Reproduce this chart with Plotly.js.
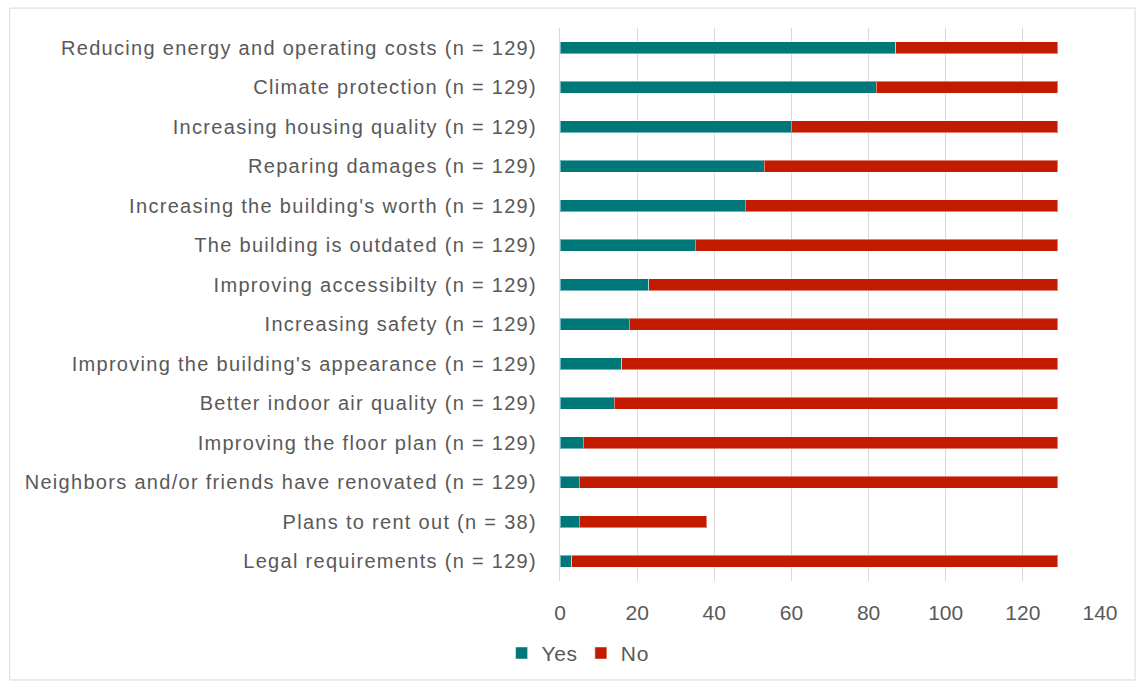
<!DOCTYPE html>
<html>
<head>
<meta charset="utf-8">
<script src="https://cdn.plot.ly/plotly-3.0.1.min.js"></script>
<style>
html,body{margin:0;padding:0;background:#fff;}
#chart{width:1137px;height:682px;}
#chart .ytick text{letter-spacing:1.3px;}
#chart .legendtext{letter-spacing:0.6px;}
</style>
</head>
<body>
<div id="chart"></div>
<script>
const categories = [
  "Reducing energy and operating costs (n = 129)",
  "Climate protection (n = 129)",
  "Increasing housing quality (n = 129)",
  "Reparing damages (n = 129)",
  "Increasing the building's worth (n = 129)",
  "The building is outdated (n = 129)",
  "Improving accessibilty (n = 129)",
  "Increasing safety (n = 129)",
  "Improving the building's appearance (n = 129)",
  "Better indoor air quality (n = 129)",
  "Improving the floor plan (n = 129)",
  "Neighbors and/or friends have renovated (n = 129)",
  "Plans to rent out (n = 38)",
  "Legal requirements (n = 129)"
];
const totals = [129,129,129,129,129,129,129,129,129,129,129,129,38,129];
const yesValues = [87,82,60,53,48,35,23,18,16,14,6,5,5,3];
const noValues = totals.map((t,i)=>t-yesValues[i]);
const xTicks = [0,20,40,60,80,100,120,140];

const fam = "Liberation Sans, Arial, sans-serif";
const catFont = {family:fam, size:20, color:"#595959"};
const tickFont = {family:fam, size:21, color:"#595959"};
const legFont = {family:fam, size:21, color:"#595959"};
const traces = [
  {type:"bar", orientation:"h", name:"Yes", y:categories, x:yesValues, width:0.31,
   marker:{color:"#00787A", line:{color:"rgba(255,255,255,0.45)", width:1}}, hoverinfo:"x+y"},
  {type:"bar", orientation:"h", name:"No", y:categories, x:noValues, width:0.31,
   marker:{color:"#C21B00", line:{color:"rgba(255,255,255,0.45)", width:1}}, hoverinfo:"x+y"}
];
const layout = {
  width:1137, height:682, barmode:"stack", font:catFont,
  paper_bgcolor:"#fff", plot_bgcolor:"#fff",
  margin:{l:560, r:37, t:28, b:101},
  showlegend:true,
  legend:{orientation:"h", xref:"container", yref:"container", x:0.508, xanchor:"center",
          y:0.042, yanchor:"middle", font:legFont,
          traceorder:"normal", itemwidth:30, tracegroupgap:0},
  xaxis:{range:[0,140], tickvals:xTicks, showgrid:true, gridcolor:"#d9d9d9", gridwidth:1,
         zeroline:false, showline:false, ticks:"outside", ticklen:13, tickcolor:"rgba(0,0,0,0)", tickfont:tickFont, fixedrange:true},
  yaxis:{type:"category", categoryorder:"array", categoryarray:categories, autorange:"reversed",
         showgrid:false, zeroline:false, showline:true, linecolor:"#d9d9d9", linewidth:1,
         ticks:"outside", ticklen:18, tickcolor:"rgba(0,0,0,0)", tickfont:catFont, fixedrange:true},
  shapes:[{type:"rect", xref:"paper", yref:"paper", x0:-1.019, x1:1.065, y0:-0.179, y1:1.036,
           line:{color:"#d9d9d9", width:1}, fillcolor:"rgba(0,0,0,0)"}]
};
Plotly.newPlot("chart", traces, layout, {displayModeBar:false, staticPlot:true});
</script>
</body>
</html>
